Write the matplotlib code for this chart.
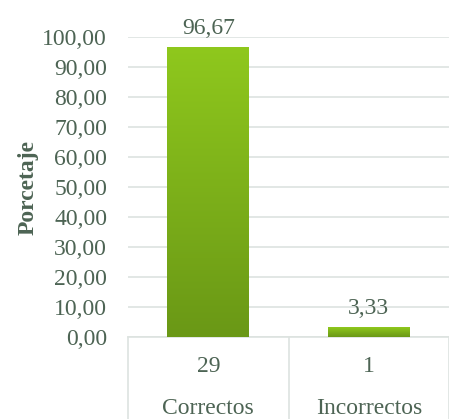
import numpy as np
import matplotlib.pyplot as plt
import matplotlib.transforms as mtransforms
from matplotlib.colors import LinearSegmentedColormap

categories = ['Correctos', 'Incorrectos']
counts = ['29', '1']
percent = [96.67, 3.33]
yticks = [0, 10, 20, 30, 40, 50, 60, 70, 80, 90, 100]

text_color = '#4d6454'
grid_color = '#dde3e0'
fs = 17
plt.rcParams['font.family'] = ['Liberation Serif', 'DejaVu Serif']

fig = plt.figure(figsize=(4.49, 4.19), dpi=100)
ax = fig.add_axes([128 / 449, 1 - 337 / 419, 1 - 128 / 449, 300 / 419])

x = np.arange(len(categories))
bars = ax.bar(x, percent, width=0.51, color='#7fb01a', zorder=3)

# vertical gradient inside each bar
cmap = LinearSegmentedColormap.from_list('grn', ['#6a9816', '#8fc81d'])
grad = np.linspace(0, 1, 256).reshape(-1, 1)
for b in bars:
    x0, y0 = b.get_x(), b.get_y()
    w, h = b.get_width(), b.get_height()
    im = ax.imshow(grad, cmap=cmap, origin='lower', aspect='auto',
                   extent=[x0, x0 + w, y0, y0 + h], zorder=4)
    im.set_clip_path(b)

ax.set_xlim(-0.5, 1.5)
ax.set_ylim(0, 100)
ax.set_yticks(yticks)
ax.set_yticklabels([f'{v:.2f}'.replace('.', ',') for v in yticks],
                   fontsize=fs, color=text_color)
ax.tick_params(axis='y', length=0, pad=15)
ax.set_xticks([])
ax.grid(axis='y', color=grid_color, linewidth=1.2, zorder=0)
for s in ['top', 'right', 'left']:
    ax.spines[s].set_visible(False)
ax.spines['bottom'].set_color(grid_color)
ax.spines['bottom'].set_linewidth(1.2)

ax.set_ylabel('Porcetaje', fontsize=fs, fontweight='bold', color=text_color, labelpad=3)

# value labels
for xi, v in zip(x, percent):
    ax.annotate(f'{v:.2f}'.replace('.', ','), (xi, v), xytext=(0, 6),
                textcoords='offset points', ha='center', va='bottom',
                fontsize=fs, color=text_color, annotation_clip=False)

# two-level category axis
trans = mtransforms.blended_transform_factory(ax.transData, fig.transFigure)
for xb in [-0.5, 0.5, 1.5]:
    ax.plot([xb, xb], [1 - 337 / 419, 0], transform=trans, color=grid_color,
            linewidth=1.2, clip_on=False)
for xi, c, n in zip(x, categories, counts):
    ax.text(xi, 1 - 366 / 419, n, transform=trans, ha='center', va='center',
            fontsize=fs, color=text_color)
    ax.text(xi, 1 - 408 / 419, c, transform=trans, ha='center', va='center',
            fontsize=fs, color=text_color)

fig.savefig('out.png', dpi=100)
